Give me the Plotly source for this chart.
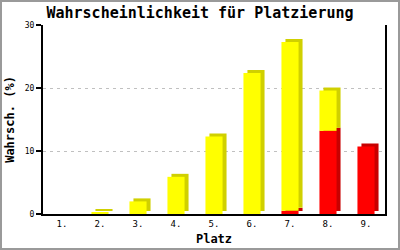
import plotly.graph_objects as go

places = ["1.", "2.", "3.", "4.", "5.", "6.", "7.", "8.", "9."]
red_vals = [0, 0, 0, 0, 0, 0, 0.5, 13.2, 10.7]
yellow_vals = [0, 0.2, 2.0, 5.9, 12.3, 22.4, 26.8, 6.4, 0]
y_ticks = [0, 10, 20, 30]

W, H = 400, 250
ML, MR, MT, MB = 43, 15, 25, 36
PW, PH = W - ML - MR, H - MT - MB
YMAX = 30

# 3D depth effect (style)
DX_PX, DY_PX = 4, 3
dx = DX_PX / (PW / len(places))
dy = DY_PX / (PH / YMAX)
bw = 0.45
off = -bw / 2

FRONT_RED, SIDE_RED = "#ff0000", "#c80000"
FRONT_YEL, SIDE_YEL = "#ffff00", "#d0d000"

fig = go.Figure()
yellow_base = [r for r in red_vals]
# shadows
fig.add_trace(go.Bar(x=places, y=red_vals, base=[dy] * len(places), width=bw, offset=off + dx,
                     marker=dict(color=SIDE_RED, line=dict(width=0)), hoverinfo="skip"))
fig.add_trace(go.Bar(x=places, y=yellow_vals, base=[b + dy for b in yellow_base], width=bw, offset=off + dx,
                     marker=dict(color=SIDE_YEL, line=dict(width=0)), hoverinfo="skip"))
# fronts
fig.add_trace(go.Bar(x=places, y=red_vals, base=[0] * len(places), width=bw, offset=off,
                     marker=dict(color=FRONT_RED, line=dict(width=0))))
fig.add_trace(go.Bar(x=places, y=yellow_vals, base=yellow_base, width=bw, offset=off,
                     marker=dict(color=FRONT_YEL, line=dict(width=0))))

mono = "DejaVu Sans Mono"
fig.update_layout(
    width=W, height=H,
    margin=dict(l=ML, r=MR, t=MT, b=MB, autoexpand=False),
    paper_bgcolor="white", plot_bgcolor="white",
    barmode="overlay", showlegend=False,
    title=dict(text="<b>Wahrscheinlichkeit für Platzierung</b>", x=0.5, xanchor="center",
               y=1 - 13 / H, yanchor="middle", font=dict(family=mono, size=15, color="black")),
    font=dict(family=mono, color="black"),
    xaxis=dict(showline=True, linecolor="black", linewidth=2, showgrid=False, ticks="",
               tickfont=dict(size=9), range=[-0.5, len(places) - 0.5],
               title=dict(text="<b>Platz</b>", font=dict(size=12), standoff=7)),
    yaxis=dict(range=[0, YMAX], tickvals=y_ticks, showline=True, linecolor="black", linewidth=2,
               mirror=True, ticks="outside", ticklen=5, tickcolor="black", tickwidth=2,
               tickfont=dict(size=8), showgrid=True, gridcolor="#c0c0c0", griddash="3px,4px",
               gridwidth=1, zeroline=False,
               title=dict(text="<b>Wahrsch. (%)</b>", font=dict(size=12), standoff=8)),
)
fig.add_shape(type="rect", xref="paper", yref="paper",
              x0=-(ML - 1) / PW, x1=1 + (MR - 1) / PW, y0=-(MB - 1) / PH, y1=1 + (MT - 1) / PH,
              line=dict(color="#9a9a9a", width=2), fillcolor="rgba(0,0,0,0)", layer="below")
fig.write_html("out.html")
